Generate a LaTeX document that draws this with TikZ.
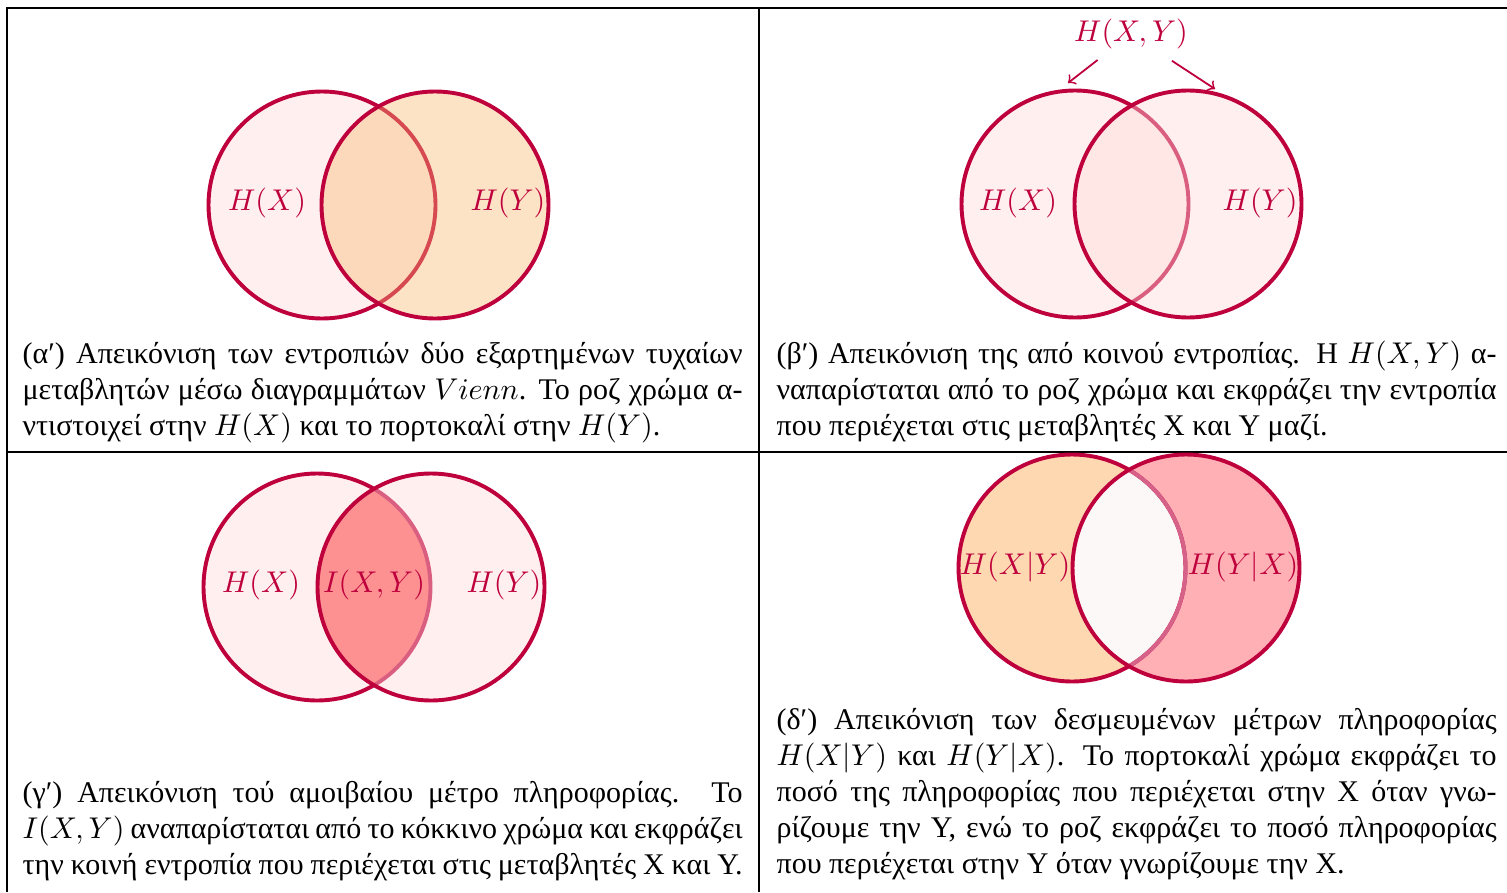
\documentclass[tikz,border=0pt]{standalone}
\usepackage[no-math]{fontspec}
\setmainfont{Liberation Serif}
\usepackage{amsmath}
\usetikzlibrary{arrows.meta,positioning,calc}

\definecolor{venn}{RGB}{190,0,60}
\definecolor{vennlite}{RGB}{214,98,138}
\definecolor{rozfill}{RGB}{255,220,218}
\definecolor{portfill}{RGB}{250,184,110}
\definecolor{kokkfill}{RGB}{253,88,90}
\definecolor{portsolid}{RGB}{253,216,176}
\definecolor{rozsolid}{RGB}{255,176,180}
\definecolor{lensfill}{RGB}{253,248,248}

\tikzset{
  rim/.style={draw=venn, line width=1.3pt},
  roz/.style={fill=rozfill, fill opacity=0.43},
  lbl/.style={text=venn, inner sep=1pt},
  capt/.style={text width=240pt, align=justify, inner sep=0pt, anchor=north west,
    font=\fontsize{10pt}{12pt}\selectfont},
  tabline/.style={line width=0.5pt}
}

\begin{document}
\begin{tikzpicture}[x=0.3333pt, y=-0.3333pt, >=to]
  \def\vr{113.5}
  \useasboundingbox (0,0) rectangle (1507,892);

  % table rules
  \draw[tabline] (7,892) -- (7,8) -- (1507,8);
  \draw[tabline] (759,8) -- (759,892);
  \draw[tabline] (7,452) -- (1507,452);

  % (a) two entropies
  \fill[roz] (322,205) circle (\vr);
  \draw[rim] (322,205) circle (\vr);
  \fill[portfill, fill opacity=0.4] (435,205) circle (\vr);
  \draw[rim] (435,205) circle (\vr);
  \node[lbl] (ahx) at (267,203) {$H(X)$};
  \node[lbl] (ahy) at (508,203) {$H(Y)$};

  % (b) joint entropy
  \fill[roz] (1075,204) circle (\vr);
  \draw[rim] (1075,204) circle (\vr);
  \fill[roz] (1188,204) circle (\vr);
  \draw[rim] (1188,204) circle (\vr);
  \node[lbl] (bhx) at (1018,203) {$H(X)$};
  \node[lbl] (bhy) at (1260,203) {$H(Y)$};
  \node[lbl] (bhxy) at (1131,34) {$H(X,Y)$};
  \coordinate (btipx) at (1068,83);
  \coordinate (btipy) at (1215,89);
  \draw[->, venn, semithick, shorten <=4pt] (bhxy) -- (btipx);
  \draw[->, venn, semithick, shorten <=5pt] (bhxy) -- (btipy);

  % (c) mutual information
  \fill[roz] (317,587) circle (\vr);
  \begin{scope}
    \clip (317,587) circle (\vr);
    \fill[kokkfill] (431,587) circle (\vr);
  \end{scope}
  \draw[rim] (317,587) circle (\vr);
  \fill[roz] (431,587) circle (\vr);
  \draw[rim] (431,587) circle (\vr);
  \node[lbl] (ghx) at (261,585) {$H(X)$};
  \node[lbl] (gixy) at (374,585) {$I(X,Y)$};
  \node[lbl] (ghy) at (504,585) {$H(Y)$};

  % (d) conditional entropies
  \fill[portsolid] (1072,568) circle (\vr);
  \begin{scope}
    \clip (1072,568) circle (\vr);
    \fill[lensfill] (1186,568) circle (\vr);
  \end{scope}
  \begin{scope}
    \clip (1186,568) circle (\vr);
    \fill[rozsolid, even odd rule] (1186,568) circle (\vr) (1072,568) circle (\vr);
  \end{scope}
  \draw[rim] (1072,568) circle (\vr);
  \begin{scope}
    \clip (1186,568) circle (\vr);
    \draw[rim, draw=vennlite] (1072,568) circle (\vr);
  \end{scope}
  \draw[rim] (1186,568) circle (\vr);
  \node[lbl] (dhxy) at (1015,567) {$H(X|Y)$};
  \node[lbl] (dhyx) at (1243,567) {$H(Y|X)$};

  % captions
  \node[capt] (acap) at (22,338) {\strut(α′) Απεικόνιση των εντροπιών δύο εξαρτημένων τυχαίων\linebreak
    μεταβλητών μέσω διαγραμμάτων $Vienn$. Το ροζ χρώμα α-\linebreak
    ντιστοιχεί στην $H(X)$ και το πορτοκαλί στην $H(Y)$.};
  \node[capt] (bcap) at (776,338) {\strut(β′) Απεικόνιση της από κοινού εντροπίας. Η $H(X,Y)$ α-\linebreak
    ναπαρίσταται από το ροζ χρώμα και εκφράζει την εντροπία\linebreak
    που περιέχεται στις μεταβλητές Χ και Υ μαζί.};
  \node[capt] (gcap) at (22,777) {\parfillskip=0pt\strut(γ′) Απεικόνιση τού αμοιβαίου μέτρο πληροφορίας. Το\linebreak
    $I(X,Y)$ αναπαρίσταται από το κόκκινο χρώμα και εκφράζει\linebreak
    την κοινή εντροπία που περιέχεται στις μεταβλητές Χ και Υ.};
  \node[capt] (dcap) at (776,704) {\strut(δ′) Απεικόνιση των δεσμευμένων μέτρων πληροφορίας\linebreak
    $H(X|Y)$ και $H(Y|X)$. Το πορτοκαλί χρώμα εκφράζει το\linebreak
    ποσό της πληροφορίας που περιέχεται στην Χ όταν γνω-\linebreak
    ρίζουμε την Υ, ενώ το ροζ εκφράζει το ποσό πληροφορίας\linebreak
    που περιέχεται στην Υ όταν γνωρίζουμε την Χ.};
\end{tikzpicture}
\end{document}
